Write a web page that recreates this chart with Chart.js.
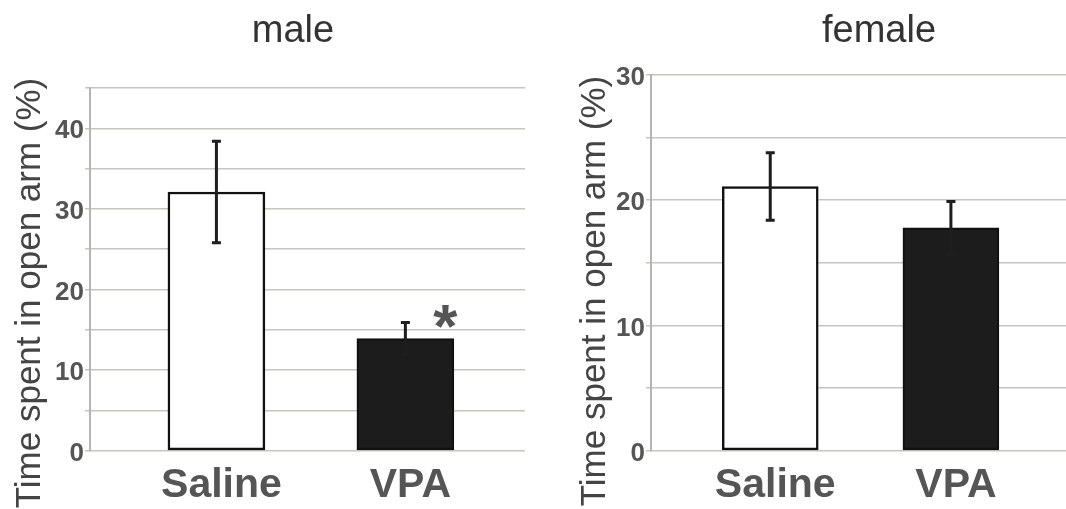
<!DOCTYPE html>
<html><head><meta charset="utf-8">
<script src="https://cdn.jsdelivr.net/npm/chart.js@4/dist/chart.umd.min.js"></script>
<style>
html,body{margin:0;padding:0;background:#fff;overflow:hidden;width:1066px;height:509px;}
canvas{position:absolute;top:0;}
#male{left:0;}
#female{left:560px;}
</style></head><body>
<canvas id="male" width="545" height="509"></canvas>
<canvas id="female" width="506" height="509"></canvas>
<script>
const categories = ['Saline', 'VPA'];
const maleMeans = [32.1, 13.9];
const maleErrors = [6.3, 2.0];
const maleMarks = ['', '*'];
const femaleMeans = [21.1, 17.8];
const femaleErrors = [2.7, 2.1];
const femaleMarks = ['', ''];
const panelTitles = ['male', 'female'];
const yAxisTitle = 'Time spent in open arm (%)';
const maleYMax = 45;
const femaleYMax = 30;
const yStep = 5;
const yLabelEvery = 10;

const FONT = '"Liberation Sans", Arial, sans-serif';

const panelText = {
  id: 'panelText',
  afterDatasetsDraw(chart, args, o) {
    const ctx = chart.ctx, ds = chart.data.datasets[0], meta = chart.getDatasetMeta(0), ys = chart.scales.y;
    ctx.save();
    ctx.strokeStyle = '#1e1e1e';
    ctx.lineWidth = 3;
    meta.data.forEach((bar, i) => {
      const v = ds.data[i].y, e = ds.errors[i];
      const yt = ys.getPixelForValue(v + e), yb = ys.getPixelForValue(v - e);
      ctx.beginPath();
      ctx.moveTo(bar.x, yt); ctx.lineTo(bar.x, yb);
      ctx.moveTo(bar.x - 4.5, yt); ctx.lineTo(bar.x + 4.5, yt);
      ctx.moveTo(bar.x - 4.5, yb); ctx.lineTo(bar.x + 4.5, yb);
      ctx.stroke();
      if (ds.marks[i]) {
        ctx.fillStyle = '#555';
        ctx.font = 'bold 62px ' + FONT;
        ctx.textAlign = 'center';
        ctx.textBaseline = 'alphabetic';
        ctx.fillText(ds.marks[i], bar.x + 40, yt + 24);
      }
    });
    ctx.fillStyle = '#333';
    ctx.font = '38px ' + FONT;
    ctx.textAlign = 'center';
    ctx.textBaseline = 'alphabetic';
    ctx.fillText(o.title, o.titleX, 42);
    ctx.translate(o.yTitleX, o.yTitleY);
    ctx.rotate(-Math.PI / 2);
    ctx.font = '35px ' + FONT;
    ctx.fillStyle = '#444';
    ctx.textBaseline = 'middle';
    ctx.fillText(o.yTitle, 0, 0);
    ctx.restore();
  }
};

function panelConfig(p) {
  return {
    type: 'bar',
    data: {
      datasets: [{
        data: p.means.map((v, i) => ({x: i, y: v})),
        errors: p.errors,
        marks: p.marks,
        backgroundColor: ['#ffffff', '#1c1c1c'],
        borderColor: '#111111',
        borderWidth: 2.5,
        borderSkipped: false,
        barThickness: p.barW
      }]
    },
    options: {
      responsive: false,
      animation: false,
      layout: {padding: {left: 0, right: p.padRight, top: p.top, bottom: 0}},
      plugins: {
        legend: {display: false},
        tooltip: {enabled: false},
        title: {display: false},
        panelText: {title: p.title, titleX: p.titleX, yTitle: yAxisTitle, yTitleX: p.yTitleX, yTitleY: p.yTitleY}
      },
      scales: {
        x: {
          type: 'linear', min: p.xMin, max: p.xMax, offset: false,
          grid: {display: false}, border: {display: false},
          afterBuildTicks: s => { s.ticks = categories.map((c, i) => ({value: i})); },
          ticks: {
            callback: v => categories[v],
            font: {family: FONT, size: 41, weight: 'bold'},
            color: '#555', padding: 2, labelOffset: 5, maxRotation: 0, autoSkip: false
          },
          afterFit: s => { s.height = 58.3; }
        },
        y: {
          min: 0, max: p.yMax,
          ticks: {
            stepSize: yStep,
            callback: v => (v % yLabelEvery === 0 ? String(v) : ''),
            font: {family: FONT, size: 26, weight: 'bold'},
            color: '#555', padding: 1, labelOffset: 3, autoSkip: false
          },
          grid: {color: '#c6c6bc', lineWidth: 1.5, tickLength: 5},
          border: {color: '#b4b4b0', width: 2},
          afterFit: s => { s.width = p.yWidth; }
        }
      }
    },
    plugins: [panelText]
  };
}

new Chart(document.getElementById('male'), panelConfig({
  means: maleMeans, errors: maleErrors, marks: maleMarks, title: panelTitles[0],
  barW: 97, padRight: 20, top: 88, yMax: maleYMax, yWidth: 90,
  xMin: -0.669, xMax: 1.633, titleX: 293, yTitleX: 30, yTitleY: 293
}));
new Chart(document.getElementById('female'), panelConfig({
  means: femaleMeans, errors: femaleErrors, marks: femaleMarks, title: panelTitles[1],
  barW: 96, padRight: 0, top: 75, yMax: femaleYMax, yWidth: 91,
  xMin: -0.660, xMax: 1.637, titleX: 319, yTitleX: 35, yTitleY: 291
}));
</script>
</body></html>
